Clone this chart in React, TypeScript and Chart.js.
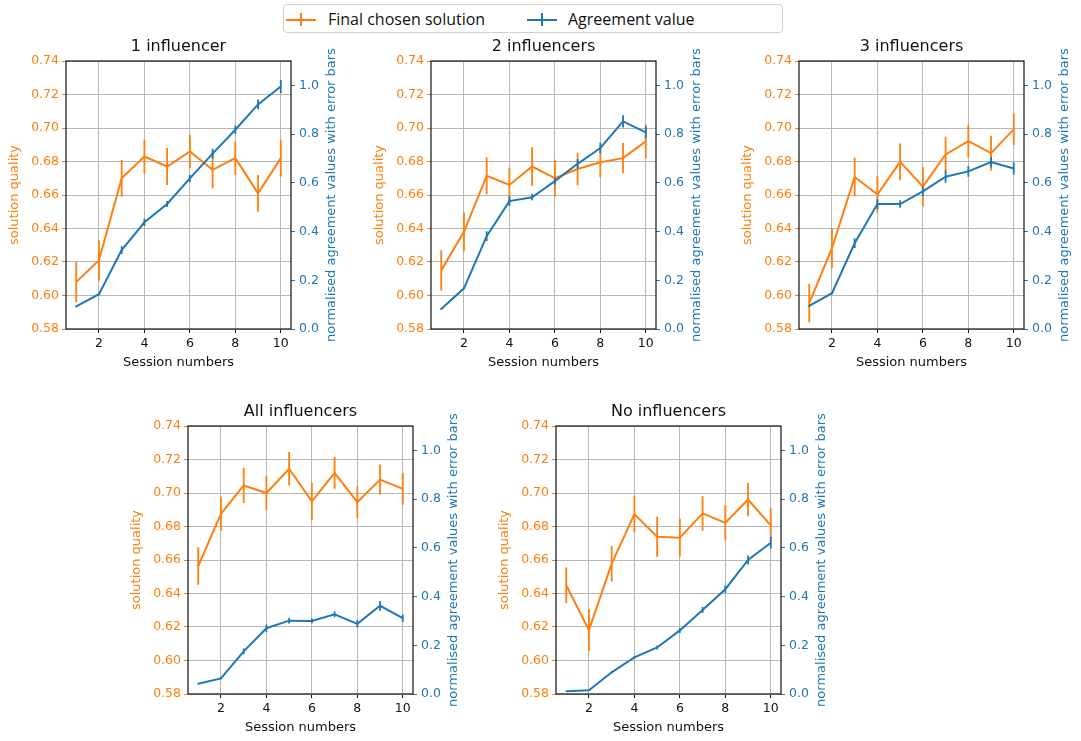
import React, { useEffect, useRef } from "react";
import { Chart, registerables } from "chart.js";

Chart.register(...registerables);

// ---------------- data ----------------
const sessions = [1, 2, 3, 4, 5, 6, 7, 8, 9, 10];
const panelTitles = ["1 influencer", "2 influencers", "3 influencers", "All influencers", "No influencers"];
const seriesNames = ["Final chosen solution", "Agreement value"];
const xAxisTitle = "Session numbers";
const leftAxisTitle = "solution quality";
const rightAxisTitle = "normalised agreement values with error bars";

const quality1 = [0.608, 0.621, 0.670, 0.683, 0.677, 0.686, 0.675, 0.682, 0.661, 0.682];
const qualityErr1 = [0.012, 0.012, 0.011, 0.010, 0.011, 0.010, 0.011, 0.010, 0.011, 0.011];
const agreement1 = [0.093, 0.143, 0.324, 0.438, 0.513, 0.618, 0.72, 0.818, 0.922, 0.995];
const agreementErr1 = [0.004, 0.004, 0.016, 0.015, 0.012, 0.015, 0.02, 0.017, 0.02, 0.027];

const quality2 = [0.615, 0.638, 0.6715, 0.666, 0.677, 0.670, 0.6755, 0.6795, 0.682, 0.692];
const qualityErr2 = [0.012, 0.0116, 0.011, 0.0103, 0.0115, 0.011, 0.0097, 0.009, 0.009, 0.01];
const agreement2 = [0.082, 0.167, 0.381, 0.525, 0.541, 0.607, 0.678, 0.743, 0.852, 0.807];
const agreementErr2 = [0.004, 0.004, 0.02, 0.02, 0.013, 0.015, 0.02, 0.022, 0.025, 0.025];

const quality3 = [0.5955, 0.6283, 0.6707, 0.6604, 0.6798, 0.665, 0.6842, 0.6922, 0.685, 0.6992];
const qualityErr3 = [0.0115, 0.012, 0.0116, 0.011, 0.011, 0.0117, 0.0106, 0.0097, 0.0104, 0.0094];
const agreement3 = [0.095, 0.147, 0.352, 0.513, 0.513, 0.565, 0.625, 0.647, 0.685, 0.659];
const agreementErr3 = [0.004, 0.004, 0.02, 0.02, 0.015, 0.02, 0.025, 0.022, 0.022, 0.025];

const quality4 = [0.6564, 0.6876, 0.7045, 0.7, 0.7145, 0.695, 0.712, 0.6945, 0.708, 0.7025];
const qualityErr4 = [0.0112, 0.0101, 0.0105, 0.01, 0.01, 0.011, 0.0095, 0.0095, 0.009, 0.0095];
const agreement4 = [0.042, 0.064, 0.175, 0.27, 0.301, 0.3, 0.327, 0.288, 0.362, 0.311];
const agreementErr4 = [0.003, 0.003, 0.012, 0.015, 0.012, 0.01, 0.012, 0.015, 0.02, 0.015];

const quality5 = [0.6449, 0.6181, 0.6578, 0.6874, 0.6739, 0.6733, 0.6878, 0.6822, 0.6961, 0.6807];
const qualityErr5 = [0.0107, 0.0126, 0.0107, 0.0108, 0.012, 0.0113, 0.0103, 0.0106, 0.01, 0.0102];
const agreement5 = [0.011, 0.015, 0.089, 0.15, 0.191, 0.261, 0.345, 0.43, 0.55, 0.621];
const agreementErr5 = [0.002, 0.002, 0.004, 0.005, 0.008, 0.01, 0.012, 0.015, 0.018, 0.025];

// axis ranges / ticks
const xRange = [0.55, 10.45];
const xStep = 2;
const leftRange = [0.58, 0.74];
const leftStep = 0.02;
const rightRange = [0, 1.1];
const rightStep = 0.2;

// ---------------- styles / layout ----------------
const ORANGE = "#ff7f0e";
const BLUE = "#1f77b4";
const GRID = "#b8b8b8";
const FONT = "DejaVu Sans";

const PLOT_W = 225;
const PLOT_H = 268;
const PAD_L = 66;
const PAD_R = 66;
const PAD_T = 45;
const PAD_B = 45;

// plot-area top-left corners on the page
const panelPositions = [
  [66, 61],
  [431, 61],
  [799, 61],
  [188, 426],
  [556, 426],
];

const panelQuality = [quality1, quality2, quality3, quality4, quality5];
const panelQualityErr = [qualityErr1, qualityErr2, qualityErr3, qualityErr4, qualityErr5];
const panelAgreement = [agreement1, agreement2, agreement3, agreement4, agreement5];
const panelAgreementErr = [agreementErr1, agreementErr2, agreementErr3, agreementErr4, agreementErr5];

// ---------------- plugins ----------------
const errorBarPlugin = {
  id: "errorBars",
  afterDatasetDraw(chart: any, args: any) {
    const ds: any = chart.data.datasets[args.index];
    const errs: number[] | undefined = ds.errors;
    if (!errs) return;
    const xs = chart.scales.x;
    const ys = chart.scales[ds.yAxisID];
    const ctx = chart.ctx;
    const area = chart.chartArea;
    ctx.save();
    ctx.beginPath();
    ctx.rect(area.left, area.top, area.right - area.left, area.bottom - area.top);
    ctx.clip();
    ctx.strokeStyle = ds.borderColor;
    ctx.lineWidth = 1.8;
    ds.data.forEach((p: any, i: number) => {
      const x = xs.getPixelForValue(p.x);
      const yTop = ys.getPixelForValue(p.y + errs[i]);
      const yBot = ys.getPixelForValue(p.y - errs[i]);
      ctx.beginPath();
      ctx.moveTo(x, yTop);
      ctx.lineTo(x, yBot);
      ctx.stroke();
    });
    ctx.restore();
  },
};

const framePlugin = {
  id: "frame",
  afterDatasetsDraw(chart: any) {
    const { ctx, chartArea: a } = chart;
    ctx.save();
    ctx.strokeStyle = "#111";
    ctx.lineWidth = 1.2;
    ctx.strokeRect(a.left, a.top, a.right - a.left, a.bottom - a.top);
    ctx.restore();
  },
};

const rightTitlePlugin = {
  id: "rightTitle",
  afterDraw(chart: any, _args: any, opts: any) {
    const { ctx, chartArea: a } = chart;
    ctx.save();
    ctx.translate(a.right + opts.offset, (a.top + a.bottom) / 2);
    ctx.rotate(-Math.PI / 2);
    ctx.font = `${opts.size}px "${FONT}"`;
    ctx.fillStyle = opts.color;
    ctx.textAlign = "center";
    ctx.textBaseline = "middle";
    ctx.fillText(opts.text, 0, 0);
    ctx.restore();
  },
};

// ---------------- components ----------------
function Panel({ index }: { index: number }) {
  const ref = useRef<HTMLCanvasElement>(null);
  const [px, py] = panelPositions[index];
  const width = PAD_L + PLOT_W + PAD_R;
  const height = PAD_T + PLOT_H + PAD_B;

  useEffect(() => {
    if (!ref.current) return;
    const tickFont = { family: FONT, size: 12.5 };
    const labelFont = { family: FONT, size: 13 };
    const chart = new Chart(ref.current, {
      type: "line",
      data: {
        datasets: [
          {
            label: seriesNames[0],
            data: sessions.map((s, i) => ({ x: s, y: panelQuality[index][i] })),
            errors: panelQualityErr[index],
            yAxisID: "y",
            borderColor: ORANGE,
            backgroundColor: ORANGE,
            borderWidth: 2,
            pointRadius: 0,
            tension: 0,
            fill: false,
            order: 2,
          } as any,
          {
            label: seriesNames[1],
            data: sessions.map((s, i) => ({ x: s, y: panelAgreement[index][i] })),
            errors: panelAgreementErr[index],
            yAxisID: "y1",
            borderColor: BLUE,
            backgroundColor: BLUE,
            borderWidth: 2,
            pointRadius: 0,
            tension: 0,
            fill: false,
            order: 1,
          } as any,
        ],
      },
      options: {
        responsive: false,
        animation: false,
        events: [],
        layout: { padding: 0 },
        plugins: {
          legend: { display: false },
          tooltip: { enabled: false },
          title: {
            display: true,
            text: panelTitles[index],
            color: "#111",
            font: { family: FONT, size: 16, weight: "normal" },
            padding: { top: 21.4, bottom: 4.4 },
          },
          rightTitle: { text: rightAxisTitle, color: BLUE, size: 13, offset: 41 },
        } as any,
        scales: {
          x: {
            type: "linear",
            min: xRange[0],
            max: xRange[1],
            ticks: { stepSize: xStep, includeBounds: false, color: "#111", font: tickFont, padding: 3, maxRotation: 0 },
            grid: { color: GRID, lineWidth: 1, tickColor: "#111", tickLength: 4, drawTicks: true },
            border: { display: false },
            title: { display: true, text: xAxisTitle, color: "#111", font: labelFont, padding: { top: 0, bottom: 4 } },
            afterFit: (s: any) => {
              s.height = PAD_B;
            },
          },
          y: {
            type: "linear",
            position: "left",
            min: leftRange[0],
            max: leftRange[1],
            ticks: {
              stepSize: leftStep,
              includeBounds: false,
              color: ORANGE,
              font: tickFont,
              padding: 3,
              callback: (v: any) => Number(v).toFixed(2),
            },
            grid: { color: GRID, lineWidth: 1, tickColor: ORANGE, tickLength: 4, drawTicks: true },
            border: { display: false },
            title: { display: true, text: leftAxisTitle, color: ORANGE, font: labelFont, padding: { top: 7, bottom: 0 } },
            afterFit: (s: any) => {
              s.width = PAD_L;
            },
          },
          y1: {
            type: "linear",
            position: "right",
            min: rightRange[0],
            max: rightRange[1],
            ticks: {
              stepSize: rightStep,
              includeBounds: false,
              color: BLUE,
              font: tickFont,
              padding: 4,
              callback: (v: any) => Number(v).toFixed(1),
            },
            grid: { drawOnChartArea: false, tickColor: BLUE, tickLength: 4, drawTicks: true },
            border: { display: false },
            afterFit: (s: any) => {
              s.width = PAD_R;
            },
          },
        } as any,
      },
      plugins: [errorBarPlugin, framePlugin, rightTitlePlugin],
    });
    return () => chart.destroy();
  }, [index]);

  return (
    <canvas
      ref={ref}
      width={width}
      height={height}
      style={{ position: "absolute", left: px - PAD_L, top: py - PAD_T, width, height }}
    />
  );
}

function LegendMarker({ color, left }: { color: string; left: number }) {
  return (
    <div style={{ position: "absolute", left, top: 0, width: 30, height: 29 }}>
      <div style={{ position: "absolute", left: 0, top: 13.5, width: 30, height: 2, background: color }} />
      <div style={{ position: "absolute", left: 14, top: 8, width: 2, height: 13, background: color }} />
    </div>
  );
}

export default function App() {
  return (
    <div
      style={{
        position: "absolute",
        left: 0,
        top: 0,
        width: 1081,
        height: 741,
        background: "#fff",
        overflow: "hidden",
      }}
    >
      {panelTitles.map((_, i) => (
        <Panel key={i} index={i} />
      ))}
      <div
        style={{
          position: "absolute",
          left: 283,
          top: 4,
          width: 500,
          height: 29,
          border: "1px solid #d0d0d0",
          borderRadius: 4,
          background: "#fff",
          boxSizing: "border-box",
          fontFamily: '"Open Sans", sans-serif',
          fontSize: 16,
          color: "#111",
        }}
      >
        <LegendMarker color={ORANGE} left={2} />
        <span style={{ position: "absolute", left: 44, top: 3, lineHeight: "22px", whiteSpace: "nowrap" }}>
          {seriesNames[0]}
        </span>
        <LegendMarker color={BLUE} left={243} />
        <span style={{ position: "absolute", left: 284, top: 3, lineHeight: "22px", whiteSpace: "nowrap" }}>
          {seriesNames[1]}
        </span>
      </div>
    </div>
  );
}
